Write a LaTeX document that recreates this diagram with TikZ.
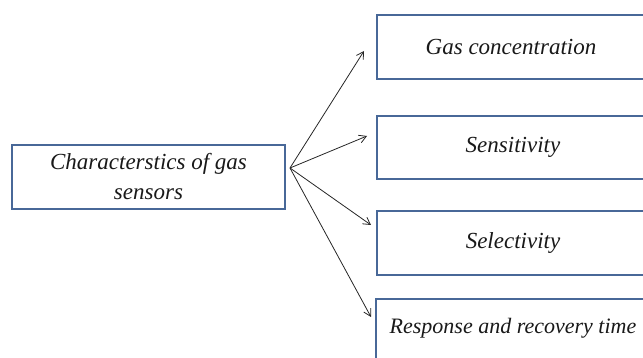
\documentclass[tikz,border=0pt]{standalone}
\usepackage{fontspec}
\setmainfont{Liberation Serif}
\usetikzlibrary{arrows.meta}
\definecolor{boxblue}{RGB}{72,104,152}
\begin{document}
\begin{tikzpicture}[x=1pt,y=-1pt,
  box/.style={draw=boxblue,line width=1.6pt,fill=white,inner sep=0pt},
  lbl/.style={font=\itshape\fontsize{23}{30}\selectfont,align=center,text=black!90},
  arr/.style={-{Straight Barb[length=7pt,width=8pt]},line width=0.8pt,black!85}]
\useasboundingbox (0,0) rectangle (643,358);
\begin{scope}
\clip (0,0) rectangle (643,358);
\draw[box] (12,145) rectangle (285,209);
\node[lbl] (src) at (148.5,177) {Characterstics of gas\\sensors};
\draw[box] (377,15) rectangle (650,79);
\node[lbl] (t1) at (511,47) {Gas concentration};
\draw[box] (377,116) rectangle (650,179);
\node[lbl] (t2) at (513,147.5) {Sensitivity};
\draw[box] (377,211) rectangle (650,275);
\node[lbl] (t3) at (513,243) {Selectivity};
\draw[box] (376,299) rectangle (650,362);
\node[lbl,font=\itshape\fontsize{22}{28}\selectfont] (t4) at (513,328) {Response and recovery time};
\end{scope}
\coordinate (o) at (290,168);
\coordinate (e1) at (364,51);
\coordinate (e2) at (367,136);
\coordinate (e3) at (371,225);
\coordinate (e4) at (371,317);
\draw[arr] (o) -- (e1);
\draw[arr] (o) -- (e2);
\draw[arr] (o) -- (e3);
\draw[arr] (o) -- (e4);
\end{tikzpicture}
\end{document}
